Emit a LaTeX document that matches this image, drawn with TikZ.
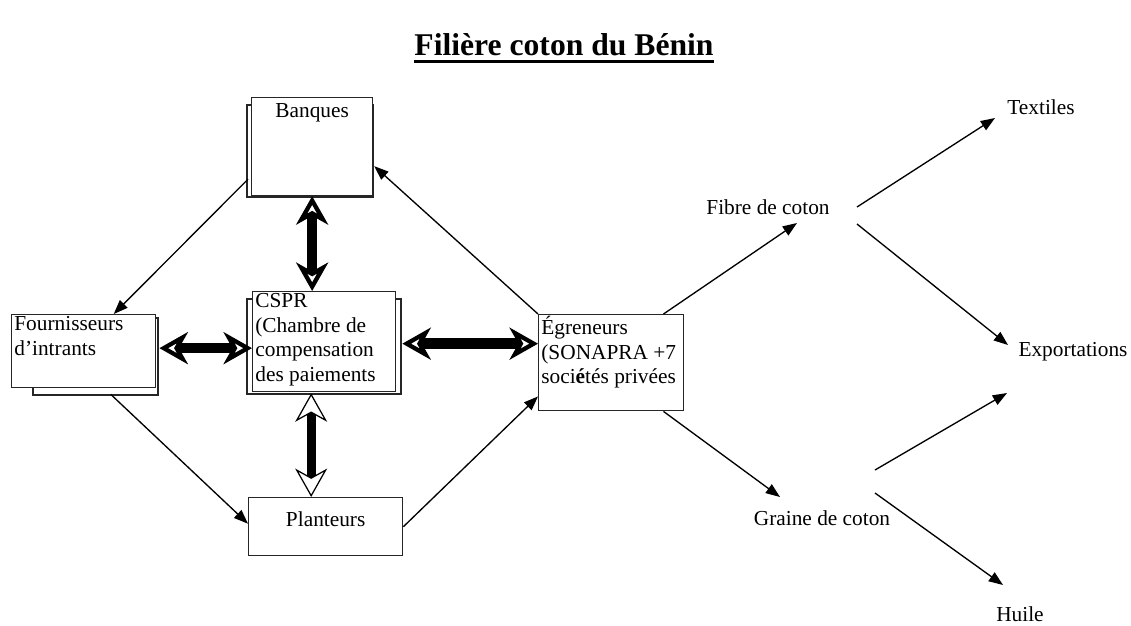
\documentclass[tikz,border=0pt]{standalone}
\usepackage{fontspec}
\setmainfont{Liberation Serif}
\usetikzlibrary{arrows.meta,calc}

% text in a box of fixed size, set from the top
\newcommand{\boxtxt}[3]{\parbox[c][#2][t]{#1}{#3}}
\newsavebox{\titlebox}
\newcommand{\thickul}[1]{\sbox{\titlebox}{#1}\rlap{\rule[-4pt]{\wd\titlebox}{1.7pt}}\usebox{\titlebox}}

\begin{document}
\begin{tikzpicture}[x=0.5625pt, y=-0.5625pt, font=\fontsize{12}{13.8}\selectfont,
  box/.style={draw=black!85, line width=0.8pt, fill=white, inner xsep=1.5pt, inner ysep=1pt},
  back/.style={draw=black!85, line width=0.8pt},
  lab/.style={inner sep=3pt},
  flow/.style={line width=0.75pt, -{Triangle[length=8pt,width=6pt]}},
  fat/.style={line width=6pt,
    {Stealth[length=16pt,width=18pt,inset=5pt,fill=white,line width=2.4pt]}-{Stealth[length=16pt,width=18pt,inset=5pt,fill=white,line width=2.4pt]}},
  slim/.style={line width=5pt,
    {Stealth[length=16pt,width=18pt,inset=5pt,fill=white,line width=0.7pt]}-{Stealth[length=16pt,width=18pt,inset=5pt,fill=white,line width=0.7pt]}}]
\useasboundingbox (0,0) rectangle (1131,625);

\node (titre) at (564,48) {\fontsize{17.8}{20}\selectfont\bfseries\thickul{Filière coton du Bénin}};

% copies behind the boxes
\draw[back] (247,105) rectangle (373,197);
\draw[back] (33,318) rectangle (158,395);
\draw[back] (247,299) rectangle (401,394);

\node[box, anchor=north west] (banq) at (251,97) {\boxtxt{65pt}{53pt}{\centering\vspace*{2pt}Banques}};
\node[box, anchor=north west] (four) at (11,314) {\boxtxt{78pt}{39pt}{Fournisseurs\\d’intrants}};
\node[box, anchor=north west] (cspr) at (252,291) {\boxtxt{77.4pt}{54.2pt}{CSPR\\(Chambre de\\compensation\\des paiements}};
\node[box, anchor=north west] (egr) at (538,314) {\boxtxt{78.6pt}{52pt}{Égreneurs\\(SONAPRA +7\\soci\textbf{é}tés privées}};
\node[box, anchor=north west] (plant) at (248,497) {\boxtxt{83.6pt}{30.6pt}{\centering\vspace*{7pt}Planteurs}};

\node[lab] (fib) at (768,207) {Fibre de coton};
\node[lab] (gra) at (822,518) {Graine de coton};
\node[lab] (tex) at (1041,107) {Textiles};
\node[lab] (exp) at (1073,352) {Exportations};
\node[lab] (hui) at (1020,614) {Huile};

% thin flows
\draw[flow] ($(banq.south west)+(-3,-17)$) -- ($(four.north)+(30,0)$);
\draw[flow] (egr.north west) -- ($(banq.south east)+(1,-30)$);
\draw[flow] ($(four.south)+(27,6)$) -- ($(plant.west)+(0,-3)$);
\draw[flow] (plant.east) -- ($(egr.south west)+(0,-15)$);
\draw[flow] ($(egr.north east)+(-21,0)$) -- ($(fib)+(29,16)$);
\draw[flow] ($(egr.south east)+(-21,0)$) -- ($(gra)+(-42,-21)$);
\draw[flow] ($(fib)+(89,0)$) -- ($(tex)+(-46,11)$);
\draw[flow] ($(fib)+(89,17)$) -- ($(exp)+(-65,-7)$);
\draw[flow] ($(gra)+(53,-48)$) -- ($(exp)+(-66,41)$);
\draw[flow] ($(gra)+(53,-25)$) -- ($(hui)+(-17,-29)$);

% payments through the CSPR
\draw[fat] (banq.south) -- (banq.south |- cspr.north);
\draw[fat] ($(four.east)+(3,-3)$) coordinate (f1) -- (f1 -| cspr.west);
\draw[fat] ($(cspr.east)+(6,2)$) coordinate (c1) -- (c1 -| egr.west);
\draw[slim] ($(cspr.south)+(-13,1)$) coordinate (c2) -- (c2 |- plant.north);
\end{tikzpicture}
\end{document}
